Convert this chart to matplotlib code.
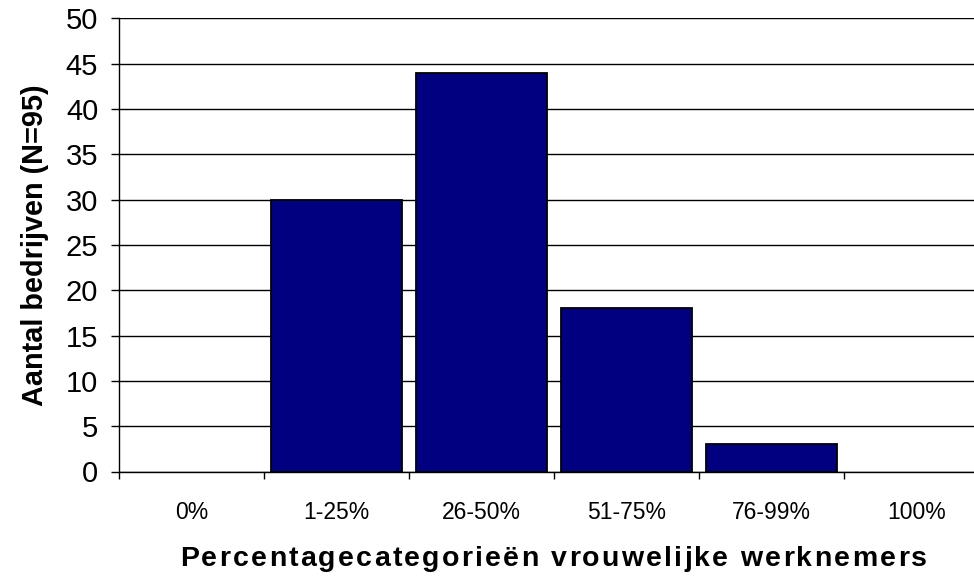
"""
Aantal bedrijven per percentagecategorie vrouwelijke werknemers
"""

import matplotlib
matplotlib.use("Agg")
import matplotlib.pyplot as plt
from matplotlib.font_manager import FontProperties, findfont, get_font
from matplotlib.ft2font import LoadFlags

categories = ["0%", "1-25%", "26-50%", "51-75%", "76-99%", "100%"]
counts = [0, 30, 44, 18, 3, 0]
y_ticks = list(range(0, 55, 5))

X_LABEL = "Percentagecategorieën vrouwelijke werknemers"
Y_LABEL = "Aantal bedrijven (N=95)"

W, H = 974, 577
FONT = "Liberation Sans"
BAR_COLOR = "#000080"


def spaced_text(fig, text, x_center_px, baseline_px, width_px, size, weight="bold"):
    # draw text with extra letter spacing so that it spans width_px
    prop = FontProperties(family=FONT, weight=weight, size=size)
    font = get_font(findfont(prop))
    font.set_size(size, fig.dpi)
    advances = []
    for ch in text:
        g = font.load_char(ord(ch), flags=LoadFlags.NO_HINTING)
        advances.append(g.linearHoriAdvance / 65536)
    extra = (width_px - sum(advances)) / (len(text) - 1)
    x = x_center_px - width_px / 2
    for ch, adv in zip(text, advances):
        fig.text(x / W, 1 - baseline_px / H, ch, fontproperties=prop,
                 ha="left", va="baseline")
        x += adv + extra


def main():
    fig = plt.figure(figsize=(W / 100, H / 100), dpi=100)
    ax = fig.add_axes([119 / W, 1 - 471.5 / H, 870 / W, (471.5 - 18.3) / H])

    xs = [i + 0.5 for i in range(len(categories))]
    # empty categories get no bar at all (no outline on the baseline)
    bar_x = [x for x, c in zip(xs, counts) if c > 0]
    bar_h = [c for c in counts if c > 0]
    ax.bar(bar_x, bar_h, width=0.91, color=BAR_COLOR, edgecolor="black",
           linewidth=1.3, zorder=3)

    ax.set_xlim(0, len(categories))
    ax.set_ylim(0, 50)

    # category boundaries carry the tick marks, labels sit in between
    ax.set_xticks(range(len(categories) + 1))
    ax.set_xticklabels([])
    ax.set_xticks(xs, minor=True)
    ax.set_xticklabels(categories, minor=True, family=FONT, fontsize=16.5)
    ax.tick_params(axis="x", which="major", direction="out", length=5,
                   width=1, color="black")
    ax.tick_params(axis="x", which="minor", length=0, pad=21)

    ax.set_yticks(y_ticks)
    ax.set_yticklabels([str(v) for v in y_ticks], family=FONT, fontsize=21)
    ax.tick_params(axis="y", direction="out", length=6, width=1, pad=9,
                   color="black")

    ax.yaxis.grid(True, color="black", linewidth=1.0, zorder=0)
    ax.set_axisbelow(True)

    for side in ["top", "right"]:
        ax.spines[side].set_visible(False)
    ax.spines["left"].set_linewidth(1.0)
    ax.spines["bottom"].set_linewidth(1.0)

    ax.set_ylabel(Y_LABEL, family=FONT, fontsize=20.8, fontweight="bold",
                  labelpad=12)

    spaced_text(fig, X_LABEL, 553.5, 566, 747, 20.5)

    fig.savefig("out.png", dpi=100)
    plt.close(fig)


if __name__ == "__main__":
    main()
